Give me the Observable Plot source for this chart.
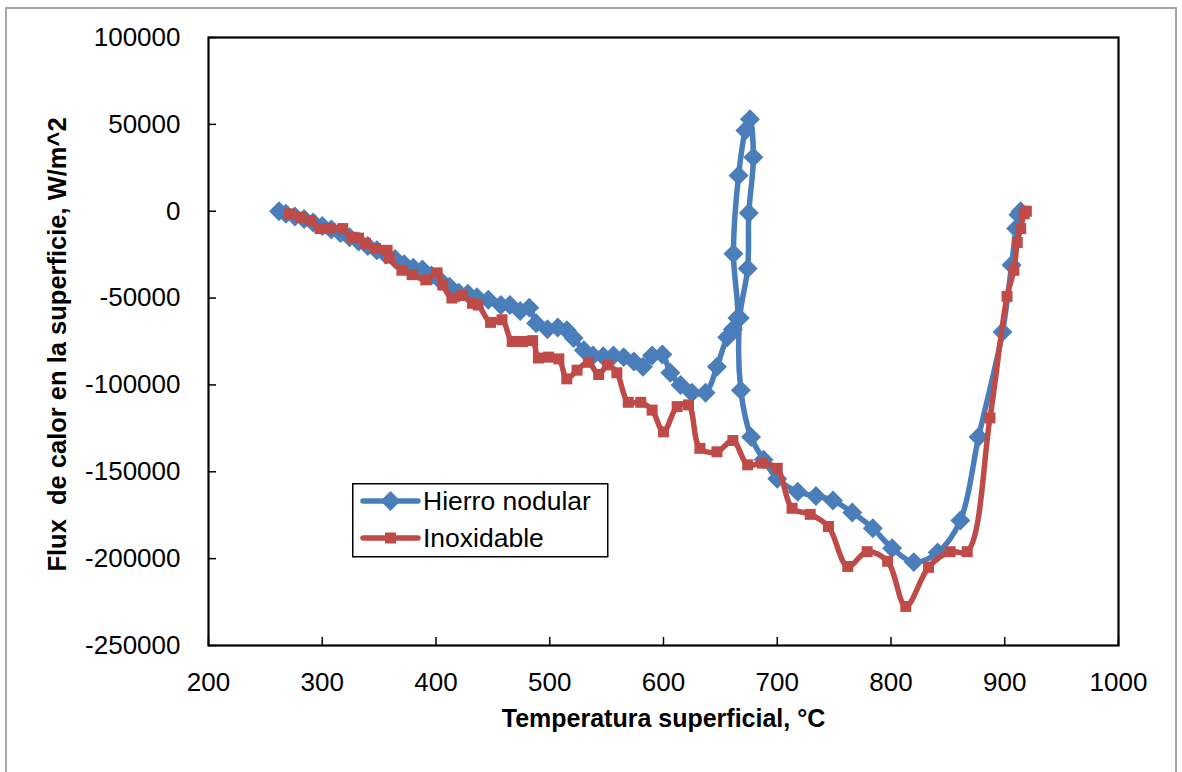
<!DOCTYPE html>
<html>
<head>
<meta charset="utf-8">
<script src="https://cdn.jsdelivr.net/npm/d3@7"></script>
<script src="https://cdn.jsdelivr.net/npm/@observablehq/plot@0.6"></script>
<style>
html, body { margin: 0; padding: 0; background: #fff; }
#wrap { position: relative; width: 1182px; height: 772px; overflow: hidden; font-family: "Liberation Sans", Arial, sans-serif; }
#border { position: absolute; left: 5px; top: 7px; width: 1172px; height: 775px; border: 2px solid #a6a6a6; box-sizing: border-box; pointer-events: none; }
svg text { white-space: pre; }
#legend { position: absolute; left: 352px; top: 483px; }
</style>
</head>
<body>
<div id="wrap">
  <div id="border"></div>
  <div id="chart"></div>
  <div id="legend"></div>
</div>
<script>
// ---- data ----
const seriesNames = ["Hierro nodular", "Inoxidable"];
const xLabel = "Temperatura superficial, °C";
const yLabel = "Flux  de calor en la superficie, W/m^2";
const xTicks = [200, 300, 400, 500, 600, 700, 800, 900, 1000];
const yTicks = [100000, 50000, 0, -50000, -100000, -150000, -200000, -250000];

const hierroT = [262,268,276,284,292,300,308,316,324,332,340,348,356,364,372,380,388,396,404,412,420,428,436,446,457,465,474,482,488,498,507,515,521,530,538,547,556,565,574,582,590,599,606,615,625,637,647,656,661,665,661.5,666,672,676,679,675,674,667,668,677,688,700,718,734,749,766,784,801,820,841,861,877,898,906,910,912,914];
const hierroQ = [0,-1500,-3000,-4500,-6500,-8500,-10500,-12500,-15000,-17500,-20000,-22500,-25000,-27500,-30500,-32500,-33500,-37000,-40000,-43500,-47000,-47500,-49500,-51000,-54000,-54000,-57500,-55500,-64500,-68000,-67000,-68500,-73000,-80000,-83000,-83500,-83000,-84000,-86500,-89500,-83000,-82500,-93000,-100000,-104500,-104500,-89500,-72500,-68000,-61500,-24500,20500,46500,53000,31000,-1000,-33000,-61500,-103000,-130000,-143000,-154000,-161500,-164000,-166500,-173500,-182500,-194000,-202000,-196500,-178000,-130000,-69500,-31000,-10000,-2000,0];

const inoxT = [271,281,290,298,307,318,326,332,338,347,357,359,370,379,391,401,406,414,423,432,437,448,458,467,476,485,490,499,508,515,524,534,543,551,559,569,580,590,600,612,622,632,647,661,674,687,700,713,729,745,762,779,797,813,833,852,867,887,902,908,911,914,917,919];
const inoxQ = [-1500,-3500,-5500,-10000,-10000,-10000,-15000,-15500,-18500,-21500,-22500,-27000,-34000,-36500,-39500,-35500,-42500,-50000,-48500,-53000,-54000,-64000,-62500,-75000,-75000,-74500,-84500,-84000,-85000,-96500,-91500,-87000,-94000,-88500,-93000,-110000,-110000,-114500,-127000,-112500,-111500,-136500,-138500,-132000,-146000,-145000,-148000,-171000,-174500,-181500,-204500,-196000,-201500,-227500,-205000,-196000,-196000,-119000,-49000,-34000,-18000,-10000,-1500,0];

// ---- build ----
const blue = "#4A7EBB", red = "#BE4B48";
const hierro = hierroT.map((t, i) => ({t, q: hierroQ[i]}));
const inox = inoxT.map((t, i) => ({t, q: inoxQ[i]}));
const fontFamily = '"Liberation Sans", Arial, sans-serif';

const chart = Plot.plot({
  width: 1182, height: 772,
  marginLeft: 208, marginRight: 64, marginTop: 37, marginBottom: 127,
  style: {fontFamily, fontSize: "26px", color: "#000", background: "transparent", overflow: "visible"},
  x: {domain: [200, 1000]},
  y: {domain: [-250000, 100000]},
  marks: [
    Plot.axisX({ticks: xTicks, tickSize: -8, tickPadding: 35, tickFormat: d => String(d), fontSize: 26, label: null, stroke: "#000", strokeWidth: 1.5}),
    Plot.axisY({ticks: yTicks, tickSize: -8, tickPadding: 36, tickFormat: d => String(d), fontSize: 26, label: null, stroke: "#000", strokeWidth: 1.5}),
    Plot.frame({stroke: "#000", strokeWidth: 2.2}),
    Plot.line(hierro, {x: "t", y: "q", stroke: blue, strokeWidth: 5.5, curve: "catmull-rom"}),
    Plot.dot(hierro, {x: "t", y: "q", symbol: "diamond2", r: 9, fill: blue, stroke: "none"}),
    Plot.line(inox, {x: "t", y: "q", stroke: red, strokeWidth: 5.5, curve: "catmull-rom"}),
    Plot.dot(inox, {x: "t", y: "q", symbol: "square", r: 6.2, fill: red, stroke: "none"}),
    Plot.text([xLabel], {text: d => d, frameAnchor: "bottom", dy: 81, fontWeight: "bold", fontSize: 25, fill: "#000"}),
    Plot.text([yLabel], {text: d => d, frameAnchor: "left", textAnchor: "middle", dx: -151, dy: 3, rotate: -90, fontWeight: "bold", fontSize: 25.5, fill: "#000"})
  ]
});
document.getElementById("chart").appendChild(chart);

// ---- legend ----
const lg = d3.select("#legend").append("svg").attr("width", 258).attr("height", 76)
  .style("font-family", fontFamily).style("overflow", "visible");
lg.append("rect").attr("x", 0.75).attr("y", 0.75).attr("width", 255).attr("height", 73)
  .attr("fill", "#fff").attr("stroke", "#000").attr("stroke-width", 1.5);
const items = [
  {name: seriesNames[0], color: blue, sym: d3.symbolDiamond2, size: 254, y: 18},
  {name: seriesNames[1], color: red, sym: d3.symbolSquare, size: 121, y: 55}
];
items.forEach(it => {
  lg.append("line").attr("x1", 11).attr("x2", 66).attr("y1", it.y).attr("y2", it.y)
    .attr("stroke", it.color).attr("stroke-width", 5.5).attr("stroke-linecap", "round");
  lg.append("path").attr("d", d3.symbol(it.sym, it.size)()).attr("transform", `translate(38.5,${it.y})`).attr("fill", it.color);
  lg.append("text").attr("x", 71).attr("y", it.y).attr("dy", "0.35em").attr("font-size", 26.5).attr("fill", "#000").text(it.name);
});
</script>
</body>
</html>
